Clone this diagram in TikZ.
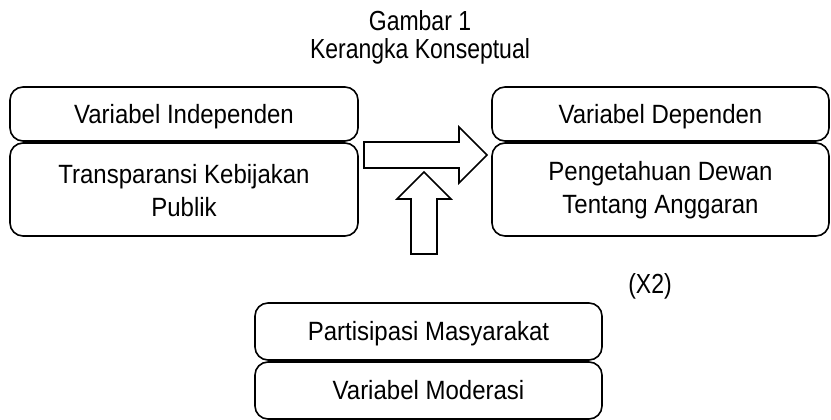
\documentclass[tikz,border=0pt]{standalone}
\usepackage{graphicx}
\usepackage{fontspec}
\setmainfont{Liberation Sans}
\newcommand{\tallt}[1]{\scalebox{1}[1.2]{#1}}
\newcommand{\tallb}[1]{\scalebox{1}[1.1]{#1}}
\begin{document}
\begin{tikzpicture}[x=1pt,y=-1pt,
  box/.style={draw, line width=1.6pt, rounded corners=13pt, inner sep=0pt},
  lbl/.style={align=center, font=\fontsize{24}{33}\selectfont, inner sep=0pt},
  blockarrow/.style={draw, line width=1.6pt, fill=white, line join=miter},
  ttl/.style={font=\fontsize{23}{28}\selectfont, inner sep=0pt}]
\useasboundingbox (0,0) rectangle (831,420);
\node[ttl] (t1) at (420,21) {\tallt{Gambar 1}};
\node[ttl] (t2) at (420,51) {\tallt{Kerangka Konseptual}};
\node[box, minimum width=348pt, minimum height=54pt] (vi) at (184,114) {};
\node[box, minimum width=348pt, minimum height=93pt] (x1) at (184,189.5) {};
\node[box, minimum width=337pt, minimum height=54pt] (vd) at (660.5,114) {};
\node[box, minimum width=337pt, minimum height=93pt] (y) at (660.5,189.5) {};
\node[box, minimum width=347pt, minimum height=57pt] (z) at (428.5,331.5) {};
\node[box, minimum width=347pt, minimum height=57pt] (vm) at (428.5,390.5) {};
\node[lbl] (vit) at ([yshift=-3pt]vi.center) {\tallb{Variabel Independen}};
\node[lbl] (x1t) at ([yshift=-1pt]x1.center) {\tallb{Transparansi Kebijakan}\\\tallb{Publik}};
\node[lbl] (vdt) at ([yshift=-3pt]vd.center) {\tallb{Variabel Dependen}};
\node[lbl] (yt) at ([yshift=-1pt]y.center) {\tallb{Pengetahuan Dewan}\\\tallb{Tentang Anggaran}};
\node[lbl] (zt) at ([yshift=-2pt]z.center) {\tallb{Partisipasi Masyarakat}};
\node[lbl] (vmt) at ([yshift=0pt]vm.center) {\tallb{Variabel Moderasi}};
\node[ttl] (x2) at (650,286) {\tallt{(X2)}};
% right block arrow from X1 towards Y
\draw[blockarrow] (364,142) -- (459,142) -- (459,127) -- (487,155) -- (459,183) -- (459,168) -- (364,168) -- cycle;
% up block arrow from moderator
\draw[blockarrow] (411,254) -- (411,199) -- (397,199) -- (424,172) -- (451,199) -- (437,199) -- (437,254) -- cycle;
\end{tikzpicture}
\end{document}
